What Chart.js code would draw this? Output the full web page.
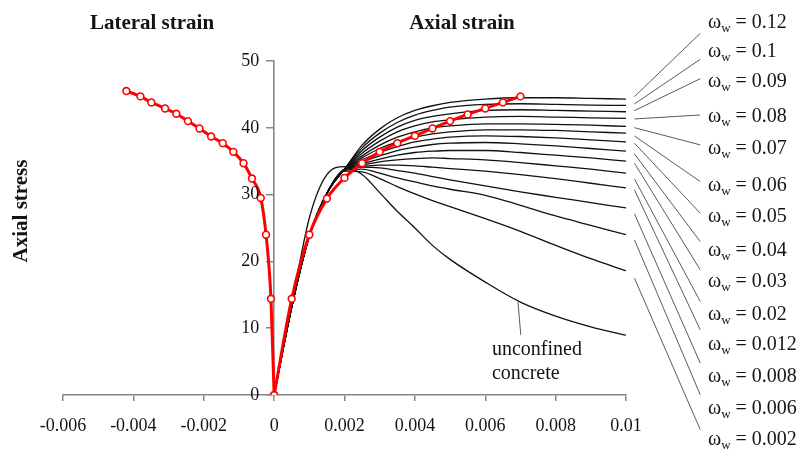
<!DOCTYPE html>
<html><head><meta charset="utf-8">
<script src="https://cdn.jsdelivr.net/npm/chart.js@4"></script>
<style>html,body{margin:0;padding:0;background:#fff}#wrap{width:802px;height:449px;position:relative}</style>
</head><body><div id="wrap"><canvas id="c" width="802" height="449"></canvas></div>
<script>
// ---- data ----
const strain = [0, 0.0005, 0.001, 0.0015, 0.002, 0.0025, 0.003, 0.0035, 0.004, 0.0045, 0.005, 0.006, 0.007, 0.008, 0.009, 0.01];
const w012  = [0, 13.2, 23.8, 30.2, 33.8, 37.4, 39.8, 41.5, 42.6, 43.3, 43.8, 44.3, 44.5, 44.5, 44.4, 44.3];
const w010  = [0, 13.2, 23.8, 30.2, 33.8, 37.0, 39.2, 40.8, 41.9, 42.6, 43.1, 43.5, 43.6, 43.5, 43.4, 43.35];
const w009  = [0, 13.2, 23.8, 30.2, 33.8, 36.6, 38.6, 40.1, 41.1, 41.7, 42.1, 42.6, 42.7, 42.6, 42.5, 42.4];
const w008  = [0, 13.2, 23.8, 30.2, 33.8, 36.2, 38.0, 39.4, 40.3, 40.9, 41.2, 41.6, 41.7, 41.6, 41.5, 41.4];
const w007  = [0, 13.2, 23.8, 30.2, 33.8, 35.8, 37.4, 38.6, 39.4, 40.0, 40.3, 40.6, 40.6, 40.5, 40.4, 40.2];
const w006  = [0, 13.2, 23.8, 30.2, 33.8, 35.5, 36.9, 37.9, 38.6, 39.1, 39.4, 39.7, 39.7, 39.6, 39.4, 39.2];
const w005  = [0, 13.2, 23.8, 30.2, 33.8, 35.2, 36.3, 37.2, 37.9, 38.3, 38.6, 38.8, 38.7, 38.5, 38.2, 37.9];
const w004  = [0, 13.2, 23.8, 30.2, 33.8, 34.9, 35.8, 36.6, 37.1, 37.5, 37.7, 37.8, 37.6, 37.3, 36.9, 36.5];
const w003  = [0, 13.2, 23.8, 30.2, 33.8, 34.6, 35.3, 35.9, 36.3, 36.5, 36.6, 36.6, 36.3, 35.9, 35.5, 35.0];
const w002  = [0, 13.2, 23.8, 30.2, 33.8, 34.4, 34.9, 35.2, 35.4, 35.5, 35.4, 35.2, 34.8, 34.3, 33.8, 33.2];
const w0012 = [0, 13.2, 23.8, 30.2, 33.8, 34.2, 34.4, 34.4, 34.3, 34.1, 33.9, 33.5, 33.0, 32.4, 31.7, 31.0];
const w0008 = [0, 13.2, 23.8, 30.2, 33.7, 34.1, 34.0, 33.6, 33.2, 32.7, 32.2, 31.3, 30.4, 29.6, 28.8, 28.0];
const w0006 = [0, 13.2, 23.8, 30.2, 33.6, 33.8, 33.2, 32.5, 31.9, 31.3, 30.8, 29.9, 28.4, 26.8, 25.4, 24.0];
const w0002 = [0, 13.2, 23.8, 30.2, 33.5, 33.4, 32.4, 31.2, 30.1, 29.1, 28.2, 26.4, 24.5, 22.4, 20.4, 18.6];
const unconfined = [0, 13.5, 26.5, 33.0, 34.2, 33.0, 30.3, 27.5, 25.0, 22.4, 20.3, 16.9, 13.9, 11.8, 10.2, 8.95];

const redAxialStrain = [0, 0.0005, 0.001, 0.0015, 0.002, 0.0025, 0.003, 0.0035, 0.004, 0.0045, 0.005, 0.0055, 0.006, 0.0065, 0.007];
const redAxialStress = [0, 14.4, 24.0, 29.4, 32.5, 34.7, 36.4, 37.7, 38.8, 39.9, 41.0, 42.0, 42.9, 43.8, 44.7];
const redLatStrain = [-0.0042, -0.0038, -0.00349, -0.0031, -0.00278, -0.00245, -0.00212, -0.00179, -0.00146, -0.00116, -0.00087, -0.00063, -0.00038, -0.00023, -0.00009, 0];
const redLatStress = [45.5, 44.7, 43.8, 42.9, 42.1, 41.0, 39.9, 38.7, 37.7, 36.4, 34.7, 32.4, 29.5, 24.0, 14.4, 0];

const omegaLabels = ['0.12', '0.1', '0.09', '0.08', '0.07', '0.06', '0.05', '0.04', '0.03', '0.02', '0.012', '0.008', '0.006', '0.002'];
const xTicks = [-0.006, -0.004, -0.002, 0, 0.002, 0.004, 0.006, 0.008, 0.01];
const yTicks = [0, 10, 20, 30, 40, 50];

// annotation anchors (in axis units)
const leaderFromY = [44.66, 43.57, 42.57, 41.32, 40.02, 38.78, 37.69, 36.09, 34.70, 32.35, 30.71, 27.12, 23.23, 17.50];
const leaderToY   = [54.14, 50.25, 47.35, 41.92, 37.44, 31.95, 27.22, 22.97, 18.74, 14.0, 9.76, 4.79, 0.04, -5.19];
const labelBaseY  = [54.89, 50.55, 46.07, 40.83, 36.09, 30.60, 25.87, 20.88, 16.24, 11.26, 6.77, 1.94, -2.80, -7.54];

const FONT = '"Liberation Serif", "Times New Roman", Times, serif';
const TXT = '#141414';
const AXIS = '#868686';
const Y_TICK_LEN = 7, Y_TICK_PAD = 8;

const confined = [w012, w010, w009, w008, w007, w006, w005, w004, w003, w002, w0012, w0008, w0006, w0002, unconfined];
const toXY = (xs, ys) => xs.map((v, i) => ({x: v, y: ys[i]}));

const datasets = [];
datasets.push({label: 'model axial', data: toXY(redAxialStrain, redAxialStress), borderColor: '#ff0000', borderWidth: 3,
  pointRadius: 3.4, pointBorderWidth: 1.6, pointBackgroundColor: '#ffffff', pointBorderColor: '#ff0000',
  cubicInterpolationMode: 'monotone', order: 0});
datasets.push({label: 'model lateral', data: toXY(redLatStrain, redLatStress), borderColor: '#ff0000', borderWidth: 3,
  pointRadius: 3.4, pointBorderWidth: 1.6, pointBackgroundColor: '#ffffff', pointBorderColor: '#ff0000',
  cubicInterpolationMode: 'monotone', order: 0});
confined.forEach((arr, i) => datasets.push({label: i < omegaLabels.length ? 'ww=' + omegaLabels[i] : 'unconfined',
  data: toXY(strain, arr), borderColor: '#111111', borderWidth: 1.3, pointRadius: 0,
  cubicInterpolationMode: 'monotone', order: 1}));

const annot = {
  id: 'annot',
  afterDraw(chart) {
    const {ctx, scales: {x, y}} = chart;
    ctx.save();
    ctx.fillStyle = TXT;

    // y tick labels (left of the centred axis)
    ctx.font = '18px ' + FONT;
    ctx.textAlign = 'right';
    ctx.textBaseline = 'middle';
    const ax = x.getPixelForValue(0);
    y.ticks.forEach(t => ctx.fillText(String(t.value), ax - Y_TICK_LEN - Y_TICK_PAD, y.getPixelForValue(t.value)));

    // titles
    ctx.font = 'bold 21px ' + FONT;
    ctx.textAlign = 'center';
    ctx.textBaseline = 'alphabetic';
    ctx.fillText('Lateral strain', 152, 29);
    ctx.fillText('Axial strain', 462, 29);
    ctx.save();
    ctx.translate(22, 211);
    ctx.rotate(-Math.PI / 2);
    ctx.textBaseline = 'middle';
    ctx.fillText('Axial stress', 0, 0);
    ctx.restore();

    // leader lines
    ctx.strokeStyle = '#5a5a5a';
    ctx.lineWidth = 1;
    const xa = x.getPixelForValue(0.01024), xb = x.getPixelForValue(0.01211);
    leaderFromY.forEach((v, i) => {
      ctx.beginPath();
      ctx.moveTo(xa, y.getPixelForValue(v));
      ctx.lineTo(xb, y.getPixelForValue(leaderToY[i]));
      ctx.stroke();
    });
    ctx.beginPath();
    ctx.moveTo(x.getPixelForValue(0.00693), y.getPixelForValue(13.9));
    ctx.lineTo(x.getPixelForValue(0.00701), y.getPixelForValue(9.0));
    ctx.stroke();

    // omega labels
    const lx = x.getPixelForValue(0.01233);
    ctx.textAlign = 'left';
    ctx.textBaseline = 'alphabetic';
    omegaLabels.forEach((t, i) => {
      const by = y.getPixelForValue(labelBaseY[i]);
      ctx.font = '20px ' + FONT;
      ctx.fillText('\u03C9', lx, by);
      let cx = lx + ctx.measureText('\u03C9').width;
      ctx.font = '13px ' + FONT;
      ctx.fillText('w', cx, by + 4);
      cx += ctx.measureText('w').width;
      ctx.font = '20px ' + FONT;
      ctx.fillText(' = ' + t, cx, by);
    });

    // unconfined concrete
    ctx.font = '20px ' + FONT;
    const ux = x.getPixelForValue(0.00619);
    ctx.fillText('unconfined', ux, y.getPixelForValue(6.03));
    ctx.fillText('concrete', ux, y.getPixelForValue(2.4));
    ctx.restore();
  }
};

const zeroPad = s => { s.paddingLeft = 0; s.paddingRight = 0; s.paddingTop = 0; s.paddingBottom = 0; };

new Chart(document.getElementById('c'), {
  type: 'line',
  data: {datasets},
  options: {
    responsive: false,
    animation: false,
    events: [],
    layout: {padding: {left: 63, right: 176, top: 61, bottom: 0}},
    plugins: {legend: {display: false}, tooltip: {enabled: false}, title: {display: false}},
    scales: {
      x: {
        type: 'linear', position: 'bottom', min: -0.006, max: 0.01,
        afterBuildTicks: s => { s.ticks = xTicks.map(v => ({value: v})); },
        afterFit: s => { zeroPad(s); s.height = 54; },
        ticks: {color: TXT, font: {family: FONT, size: 18}, padding: 14, maxRotation: 0, autoSkip: false,
          callback: v => { const r = Math.round(v * 1000) / 1000; return r === 0 ? '0' : String(r); }},
        grid: {display: true, drawOnChartArea: false, drawTicks: true, tickLength: 6, color: AXIS, lineWidth: 1.5},
        border: {display: true, color: AXIS, width: 1.6}
      },
      y: {
        type: 'linear', position: {x: 0}, min: 0, max: 50,
        afterBuildTicks: s => { s.ticks = yTicks.map(v => ({value: v})); },
        afterFit: s => { zeroPad(s); },
        ticks: {display: false},
        grid: {display: true, drawOnChartArea: false, drawTicks: true, tickLength: Y_TICK_LEN, color: AXIS, lineWidth: 1.5},
        border: {display: true, color: AXIS, width: 1.6}
      }
    }
  },
  plugins: [annot]
});
</script>
</body></html>
